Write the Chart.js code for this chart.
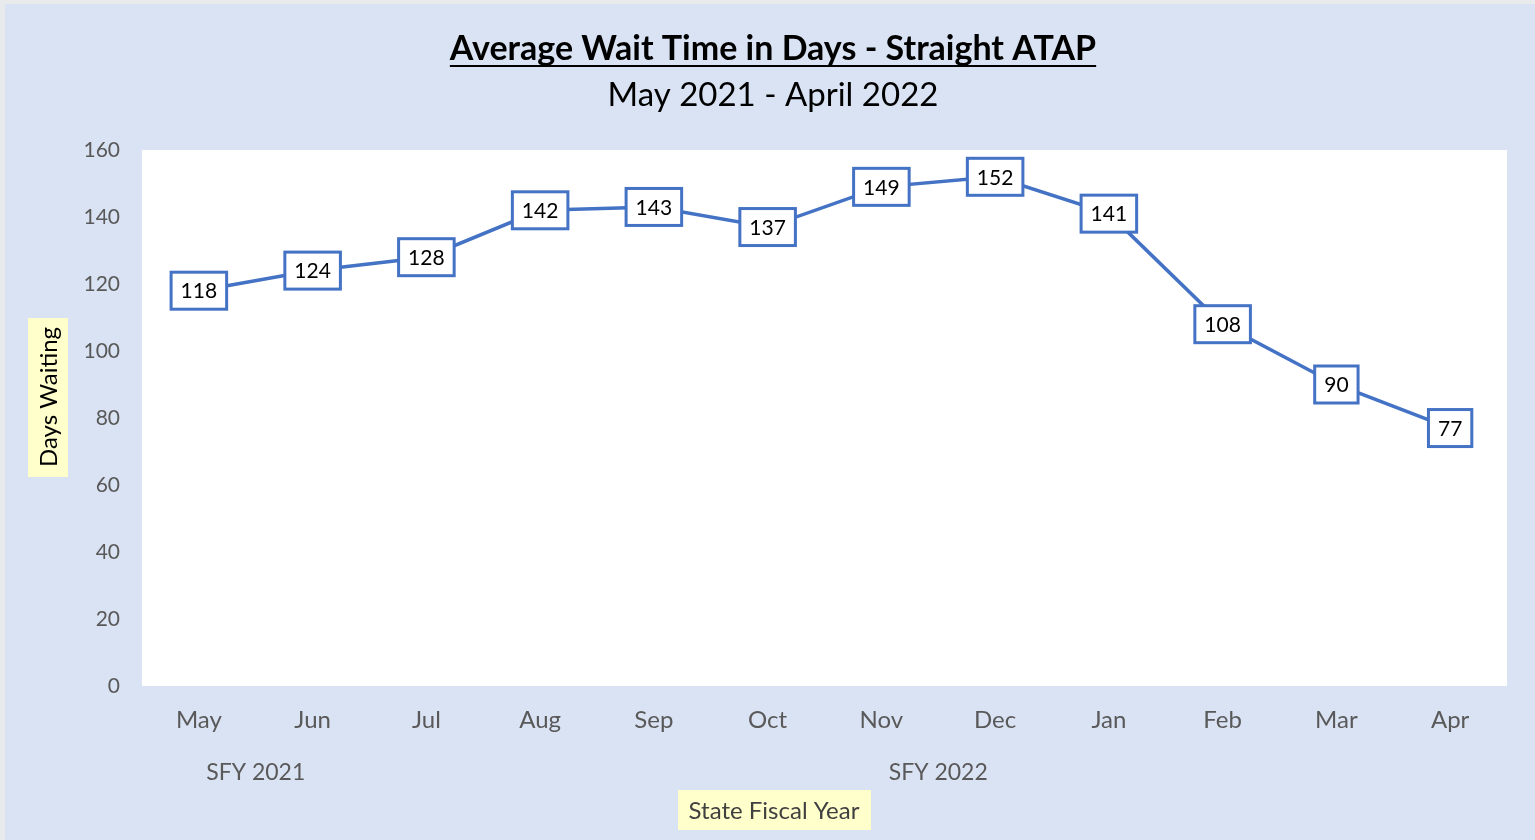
<!DOCTYPE html>
<html lang="en">
  <head>
    <meta charset="UTF-8" />
    <title>Average Wait Time in Days - Straight ATAP</title>
    <script src="https://cdn.jsdelivr.net/npm/chart.js"></script>
    <style>
      html, body { margin: 0; padding: 0; background: #e9eaec; overflow: hidden; }
      .panel { position: absolute; left: 5px; top: 4px; width: 1530px; height: 836px; background: #dae3f3; }
    </style>
  </head>
  <body>
    <div class="panel"><canvas id="chart" width="1530" height="836"></canvas></div>

    <script>
      const months = ["May", "Jun", "Jul", "Aug", "Sep", "Oct", "Nov", "Dec", "Jan", "Feb", "Mar", "Apr"];
      const waitDays = [118, 124, 128, 142, 143, 137, 149, 152, 141, 108, 90, 77];
      const fiscalYears = ["SFY 2021", "SFY 2022"];
      const fiscalYearFirstMonth = [0, 2];
      const fiscalYearLastMonth = [1, 11];

      const FONT = "Lato, 'Open Sans', sans-serif";
      const BLUE = "#4472c4";
      const GREY = "#595959";

      // plot background, titles, boxed value labels, fiscal year row
      const decorations = {
        id: "decorations",
        beforeDraw(chart) {
          const { ctx, chartArea: a } = chart;
          ctx.save();
          ctx.fillStyle = "#ffffff";
          ctx.fillRect(a.left, a.top, a.right - a.left, a.bottom - a.top);
          ctx.restore();
        },
        afterDraw(chart) {
          const { ctx } = chart;
          const xs = chart.scales.x;
          ctx.save();
          ctx.textAlign = "center";
          ctx.textBaseline = "middle";

          // title
          ctx.fillStyle = "#000";
          ctx.font = "bold 34px " + FONT;
          const t = "Average Wait Time in Days - Straight ATAP";
          const tw = ctx.measureText(t).width;
          ctx.fillText(t, 768, 45);
          ctx.fillRect(768 - tw / 2, 61, tw, 2);
          ctx.font = "33px " + FONT;
          ctx.fillText("May 2021 - April 2022", 768, 91);

          // fiscal year row
          ctx.fillStyle = GREY;
          ctx.font = "23px " + FONT;
          fiscalYears.forEach((fy, i) => {
            const x = (xs.getPixelForValue(fiscalYearFirstMonth[i]) + xs.getPixelForValue(fiscalYearLastMonth[i])) / 2;
            ctx.fillText(fy, x, 769);
          });

          // x title with highlight
          ctx.fillStyle = "#ffffcc";
          ctx.fillRect(673, 786, 193, 40);
          ctx.fillStyle = "#404040";
          ctx.font = "24px " + FONT;
          ctx.fillText("State Fiscal Year", 769, 807);

          // y title with highlight
          ctx.fillStyle = "#ffffcc";
          ctx.fillRect(23, 314, 40, 159);
          ctx.translate(44, 393);
          ctx.rotate(-Math.PI / 2);
          ctx.fillStyle = "#000";
          ctx.fillText("Days Waiting", 0, 0);
          ctx.setTransform(1, 0, 0, 1, 0, 0);

          // value labels
          const meta = chart.getDatasetMeta(0);
          ctx.font = "21px " + FONT;
          meta.data.forEach((pt, i) => {
            const txt = String(waitDays[i]);
            const w = ctx.measureText(txt).width + 19;
            const h = 37;
            ctx.fillStyle = "#fff";
            ctx.fillRect(pt.x - w / 2, pt.y - h / 2, w, h);
            ctx.strokeStyle = BLUE;
            ctx.lineWidth = 3;
            ctx.strokeRect(pt.x - w / 2, pt.y - h / 2, w, h);
            ctx.fillStyle = "#000";
            ctx.fillText(txt, pt.x, pt.y + 1);
          });
          ctx.restore();
        },
      };

      new Chart(document.getElementById("chart"), {
        type: "line",
        data: {
          labels: months,
          datasets: [
            {
              data: waitDays,
              borderColor: BLUE,
              borderWidth: 3.5,
              pointRadius: 0,
              tension: 0,
            },
          ],
        },
        options: {
          responsive: false,
          animation: false,
          layout: { padding: { top: 146, right: 28, left: 0, bottom: 0 } },
          plugins: {
            legend: { display: false },
            title: { display: false },
            tooltip: { enabled: false },
          },
          scales: {
            x: {
              offset: true,
              grid: { display: false, drawTicks: false },
              border: { display: false },
              ticks: { color: GREY, font: { family: FONT, size: 24 }, padding: 20 },
              afterFit: (s) => { s.height = 154; },
            },
            y: {
              min: 0,
              max: 160,
              grid: { display: false, drawTicks: false },
              border: { display: false },
              ticks: { stepSize: 20, color: GREY, font: { family: FONT, size: 21 }, padding: 22 },
              afterFit: (s) => { s.width = 137; },
            },
          },
        },
        plugins: [decorations],
      });
    </script>
  </body>
</html>
